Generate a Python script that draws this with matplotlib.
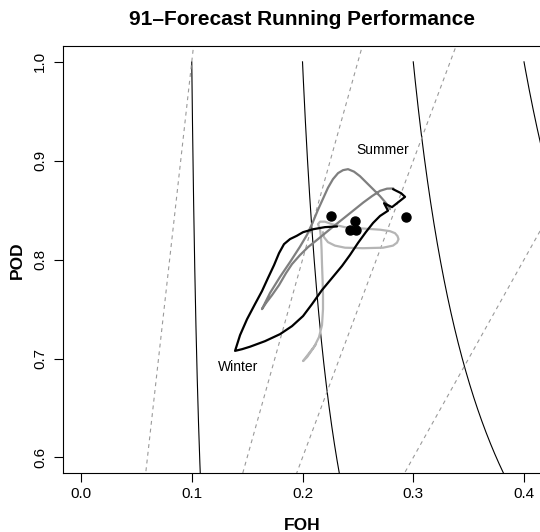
import numpy as np
import matplotlib
matplotlib.use("Agg")
import matplotlib.pyplot as plt

plt.rcParams['font.family'] = ['Liberation Sans', 'DejaVu Sans']

# ---------------------------------------------------------------------------
# data
# ---------------------------------------------------------------------------
# black running curve (winter loop)
black_foh = [0.2312, 0.2203, 0.2097, 0.2005, 0.1948, 0.1887, 0.1833, 0.1788,
             0.1743, 0.1688, 0.1634, 0.1571, 0.1499, 0.1436, 0.1391, 0.1454,
             0.1526, 0.1661, 0.1797, 0.1905, 0.2005, 0.2086, 0.2176, 0.2266,
             0.2357, 0.2429, 0.2501, 0.2573, 0.2637, 0.2700, 0.2772, 0.2736,
             0.2808, 0.2926, 0.2890, 0.2817]
black_pod = [0.8336, 0.8329, 0.8308, 0.8278, 0.8241, 0.8208, 0.8157, 0.8066,
             0.7945, 0.7814, 0.7682, 0.7551, 0.7398, 0.7237, 0.7078, 0.7095,
             0.7120, 0.7176, 0.7247, 0.7328, 0.7430, 0.7551, 0.7693, 0.7814,
             0.7937, 0.8048, 0.8169, 0.8280, 0.8371, 0.8442, 0.8495, 0.8571,
             0.8531, 0.8635, 0.8672, 0.8713]

# dark grey running curve
dgrey_foh = [0.2790, 0.2754, 0.2700, 0.2637, 0.2573, 0.2519, 0.2465, 0.2411,
             0.2366, 0.2321, 0.2275, 0.2230, 0.2185, 0.2140, 0.2095, 0.2041,
             0.1977, 0.1887, 0.1797, 0.1707, 0.1634, 0.1670, 0.1725, 0.1788,
             0.1851, 0.1905, 0.1977, 0.2050, 0.2140, 0.2248, 0.2399, 0.2549,
             0.2627, 0.2700, 0.2763, 0.2820]
dgrey_pod = [0.8511, 0.8572, 0.8642, 0.8713, 0.8784, 0.8844, 0.8890, 0.8915,
             0.8905, 0.8875, 0.8814, 0.8727, 0.8616, 0.8505, 0.8384, 0.8252,
             0.8131, 0.7975, 0.7826, 0.7664, 0.7500, 0.7561, 0.7642, 0.7743,
             0.7864, 0.7955, 0.8046, 0.8127, 0.8208, 0.8308, 0.8443, 0.8578,
             0.8642, 0.8696, 0.8718, 0.8720]

# light grey running curve
lgrey_foh = [0.2122, 0.2005, 0.2041, 0.2104, 0.2149, 0.2176, 0.2185, 0.2185,
             0.2181, 0.2176, 0.2172, 0.2167, 0.2158, 0.2140, 0.2158, 0.2203,
             0.2266, 0.2384, 0.2546, 0.2700, 0.2790, 0.2835, 0.2858, 0.2867,
             0.2853, 0.2817, 0.2727, 0.2546, 0.2384, 0.2293, 0.2230, 0.2194,
             0.2185]
lgrey_pod = [0.7146, 0.6975, 0.7015, 0.7116, 0.7217, 0.7338, 0.7500, 0.7651,
             0.7803, 0.7954, 0.8105, 0.8226, 0.8308, 0.8359, 0.8384, 0.8384,
             0.8359, 0.8328, 0.8315, 0.8303, 0.8288, 0.8268, 0.8238, 0.8207,
             0.8172, 0.8142, 0.8121, 0.8116, 0.8121, 0.8142, 0.8177, 0.8227,
             0.8278]

# single forecasts
dot_foh = [0.2255, 0.2474, 0.2429, 0.2483, 0.2932]
dot_pod = [0.8443, 0.8386, 0.8298, 0.8298, 0.8427]

# background isolines
csi_levels = [0.1, 0.2, 0.3, 0.4]
bias_levels = [2, 3, 4, 10]

# ---------------------------------------------------------------------------
# plot
# ---------------------------------------------------------------------------
fig = plt.figure(figsize=(5.4, 5.32), dpi=100)
ax = fig.add_axes([0.1172, 0.1103, 0.886, 0.8032])

# CSI curves (solid)
for c in csi_levels:
    pod = np.linspace(0.5, 1.0, 300)
    foh = 1.0 / (1.0 / c + 1.0 - 1.0 / pod)
    ax.plot(foh, pod, color="black", lw=0.8, zorder=1)

# bias lines (dashed)
for b in bias_levels:
    foh = np.array([0.0, 0.6])
    ax.plot(foh, b * foh, color="#9a9a9a", lw=0.8, ls=(0, (3.5, 3.5)), zorder=1)

ax.plot(lgrey_foh, lgrey_pod, color="#b5b5b5", lw=1.6, zorder=2,
        solid_joinstyle="round", solid_capstyle="round")
ax.plot(dgrey_foh, dgrey_pod, color="#7f7f7f", lw=1.6, zorder=3,
        solid_joinstyle="round", solid_capstyle="round")
ax.plot(black_foh, black_pod, color="black", lw=1.6, zorder=4,
        solid_joinstyle="round", solid_capstyle="round")
ax.plot(dot_foh, dot_pod, "o", color="black", ms=6.5, zorder=5)

ax.text(0.2722, 0.9107, "Summer", fontsize=10, ha="center", va="center")
ax.text(0.1420, 0.6918, "Winter", fontsize=10, ha="center", va="center")

ax.set_xlim(-0.016, 0.416)
ax.set_ylim(0.584, 1.016)
ax.set_xticks([0.0, 0.1, 0.2, 0.3, 0.4])
ax.set_yticks([0.6, 0.7, 0.8, 0.9, 1.0])
ax.set_xticklabels(["0.0", "0.1", "0.2", "0.3", "0.4"])
ax.set_yticklabels(["0.6", "0.7", "0.8", "0.9", "1.0"], rotation=90, va="center")
ax.tick_params(axis="both", direction="out", length=6.5, width=0.8,
               labelsize=11, colors="black")
ax.tick_params(axis="x", pad=3)
ax.tick_params(axis="y", pad=5)
for sp in ax.spines.values():
    sp.set_linewidth(0.8)

fig.text(0.560, 0.964, "91\u2013Forecast Running Performance", fontsize=15,
         fontweight="bold", ha="center", va="center")
fig.text(0.560, 0.004, "FOH", fontsize=12.5, fontweight="bold",
         ha="center", va="baseline")
fig.text(0.032, 0.511, "POD", fontsize=12.5, fontweight="bold",
         ha="center", va="center", rotation=90)

fig.savefig("out.png", dpi=100)
